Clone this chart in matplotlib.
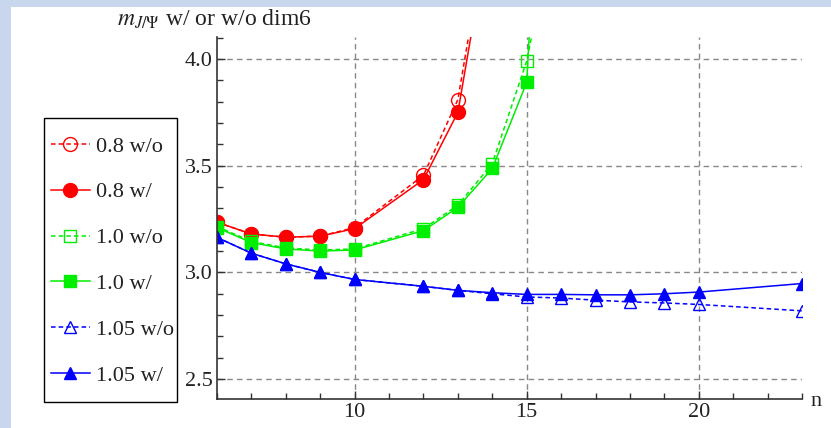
import matplotlib
matplotlib.use("Agg")
import matplotlib.pyplot as plt
from matplotlib.patches import Rectangle
from matplotlib.ticker import MultipleLocator, FormatStrFormatter

plt.rcParams["font.family"] = ["Liberation Serif", "DejaVu Serif"]
plt.rcParams["mathtext.fontset"] = "stix"

# ---- data ----
n_red = [6, 7, 8, 9, 10, 12, 13, 14]
red_wo = [3.235, 3.18, 3.165, 3.17, 3.21, 3.455, 3.81, 4.76]
red_w = [3.235, 3.18, 3.165, 3.17, 3.205, 3.435, 3.75, 4.69]

n_green = [6, 7, 8, 9, 10, 12, 13, 14, 15, 16]
green_wo = [3.215, 3.145, 3.115, 3.105, 3.11, 3.205, 3.315, 3.51, 3.99, 4.8]
green_w = [3.21, 3.14, 3.11, 3.10, 3.105, 3.196, 3.305, 3.487, 3.89, 6.9]

n_blue = [6, 7, 8, 9, 10, 12, 13, 14, 15, 16, 17, 18, 19, 20, 23]
blue_wo = [3.164, 3.09, 3.04, 3.00, 2.967, 2.935, 2.916, 2.90, 2.885, 2.88,
           2.87, 2.862, 2.857, 2.85, 2.82]
blue_w = [3.164, 3.09, 3.04, 3.00, 2.967, 2.935, 2.916, 2.905, 2.897, 2.897,
          2.895, 2.895, 2.90, 2.908, 2.948]

RED, GREEN, BLUE = "#ff0000", "#00ee00", "#0000ff"
W, H = 831, 428

fig = plt.figure(figsize=(W / 100, H / 100), dpi=100)
# light blue frame around the slide area
fig.patches.append(Rectangle((0, 0), 1, 1, transform=fig.transFigure,
                             facecolor="#c8d7ee", edgecolor="none", zorder=-10))
fig.patches.append(Rectangle((11 / W, 0), 1, 1 - 7 / H, transform=fig.transFigure,
                             facecolor="white", edgecolor="none", zorder=-9))
# legend box drawn by hand (below the axes layer), entries placed inside it
fig.patches.append(Rectangle((44 / W, 1 - 402 / H), 133 / W, 284 / H,
                             transform=fig.transFigure, facecolor="white",
                             edgecolor="black", lw=1.0, zorder=-5))

ax = fig.add_axes([217 / W, 29 / H, 585 / W, 362 / H])
ax.set_facecolor("none")

dash = (0, (3, 2))
ax.plot(n_red, red_wo, color=RED, ls=dash, lw=1.1, marker="o", ms=10,
        mfc="none", mec=RED, mew=1.0, label="0.8 w/o")
ax.plot(n_red, red_w, color=RED, ls="-", lw=1.1, marker="o", ms=10,
        mfc=RED, mec=RED, label="0.8 w/")
ax.plot(n_green, green_wo, color=GREEN, ls=dash, lw=1.1, marker="s", ms=9,
        mfc="none", mec=GREEN, mew=1.0, label="1.0 w/o")
ax.plot(n_green, green_w, color=GREEN, ls="-", lw=1.1, marker="s", ms=9,
        mfc=GREEN, mec=GREEN, label="1.0 w/")
ax.plot(n_blue, blue_wo, color=BLUE, ls=dash, lw=1.1, marker="^", ms=9,
        mfc="none", mec=BLUE, mew=1.0, label="1.05 w/o")
ax.plot(n_blue, blue_w, color=BLUE, ls="-", lw=1.1, marker="^", ms=9,
        mfc=BLUE, mec=BLUE, label="1.05 w/")

ax.set_xlim(6, 23)
ax.set_ylim(2.407, 4.103)
ax.xaxis.set_major_locator(MultipleLocator(5))
ax.xaxis.set_minor_locator(MultipleLocator(1))
ax.yaxis.set_major_locator(MultipleLocator(0.5))
ax.yaxis.set_minor_locator(MultipleLocator(0.1))
ax.yaxis.set_major_formatter(FormatStrFormatter("%.1f"))
ax.tick_params(which="both", direction="in", labelsize=16, colors="#333333",
               labelcolor="#222222", width=1)
ax.tick_params(which="major", length=6, pad=3)
ax.tick_params(which="minor", length=4)
for s in ("top", "right"):
    ax.spines[s].set_visible(False)
for s in ("left", "bottom"):
    ax.spines[s].set_color("#333333")
    ax.spines[s].set_linewidth(1.2)
ax.grid(True, which="major", color="#888888", ls=(0, (4, 3)), lw=1.0)

fig.text(117 / W, 1 - 19 / H, r"$m_{J/\Psi}$ w/ or w/o dim6",
         fontsize=17, ha="left", va="center", color="#222222")
fig.text(810 / W, 1 - 402 / H, "n", fontsize=16, ha="left", va="center",
         color="#222222")

leg = ax.legend(loc="upper left", bbox_to_anchor=(51 / W, 1 - 136 / H),
                bbox_transform=fig.transFigure, borderaxespad=0, borderpad=0,
                fontsize=16, frameon=False, labelspacing=1.14,
                handlelength=1.75, handletextpad=0.27)
for t in leg.get_texts():
    t.set_color("#222222")

fig.savefig("out.png", dpi=100)
